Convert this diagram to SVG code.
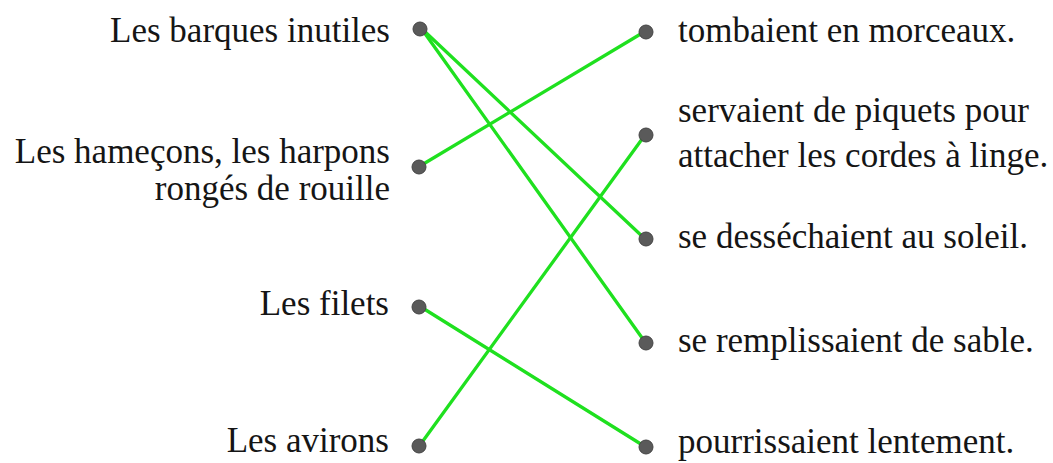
<svg xmlns="http://www.w3.org/2000/svg" width="1053" height="463" viewBox="0 0 1053 463">
<style>
text{font-family:"Liberation Serif","Times New Roman",serif;font-size:35px;fill:#151515}
.l{text-anchor:end}
.dot{fill:#5a5a5a;stroke:#444;stroke-width:1}
.c{stroke:#1fe01f;stroke-width:3.3;fill:none;stroke-linecap:round}
</style>
<rect width="1053" height="463" fill="#fff"/>
<g id="connectors">
<line class="c" x1="421" y1="28" x2="644" y2="238"/>
<line class="c" x1="421" y1="28" x2="645" y2="342"/>
<line class="c" x1="420" y1="166" x2="644" y2="32"/>
<line class="c" x1="420" y1="445" x2="645" y2="135"/>
<line class="c" x1="421" y1="307" x2="644" y2="446"/>
</g>
<g id="n-barques"><text class="l" x="390" y="42">Les barques inutiles</text><circle class="dot" cx="420" cy="29" r="7"/></g>
<g id="n-hamecons"><text class="l" x="390" y="163">Les hameçons, les harpons</text><text class="l" x="390" y="200">rongés de rouille</text><circle class="dot" cx="419" cy="167" r="7"/></g>
<g id="n-filets"><text class="l" x="389" y="315">Les filets</text><circle class="dot" cx="419" cy="307" r="7"/></g>
<g id="n-avirons"><text class="l" x="389" y="452">Les avirons</text><circle class="dot" cx="419" cy="446" r="7"/></g>
<g id="n-tombaient"><circle class="dot" cx="646" cy="32" r="7"/><text x="678" y="42">tombaient en morceaux.</text></g>
<g id="n-servaient"><circle class="dot" cx="646" cy="135" r="7"/><text x="678" y="122">servaient de piquets pour</text><text x="678" y="167">attacher les cordes à linge.</text></g>
<g id="n-dessechaient"><circle class="dot" cx="646" cy="239" r="7"/><text x="678" y="248">se desséchaient au soleil.</text></g>
<g id="n-remplissaient"><circle class="dot" cx="646" cy="343" r="7"/><text x="678" y="352">se remplissaient de sable.</text></g>
<g id="n-pourrissaient"><circle class="dot" cx="646" cy="447" r="7"/><text x="678" y="453">pourrissaient lentement.</text></g>
</svg>
